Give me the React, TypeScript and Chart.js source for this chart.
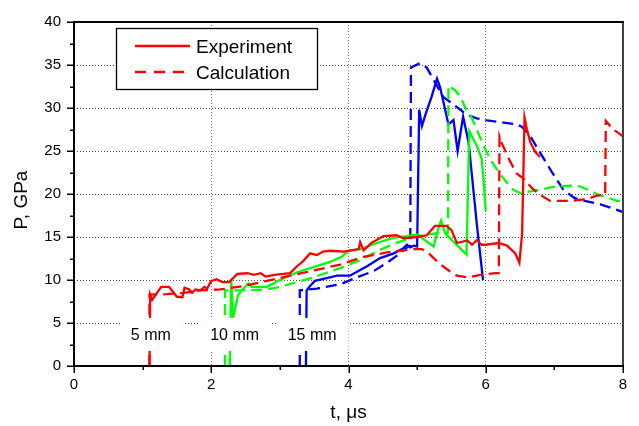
import React, { useEffect, useRef } from 'react';
import { Chart, registerables } from 'chart.js';

Chart.register(...registerables);

const FONT = '"Liberation Sans", Arial, Helvetica, sans-serif';

// ---- data (t in µs, P in GPa) ----
const redExpT = [1.10, 1.11, 1.14, 1.27, 1.385, 1.5, 1.58, 1.61, 1.68, 1.72, 1.77, 1.84, 1.9, 1.94, 2.0, 2.08, 2.16, 2.26, 2.38, 2.53, 2.62, 2.72, 2.79, 2.92, 3.05, 3.15, 3.25, 3.34, 3.44, 3.54, 3.63, 3.73, 3.93, 4.15, 4.17, 4.22, 4.34, 4.41, 4.51, 4.7, 4.8, 5.0, 5.14, 5.26, 5.43, 5.5, 5.58, 5.73, 5.8, 5.87, 5.94, 6.0, 6.19, 6.31, 6.43, 6.49, 6.53, 6.565, 6.6, 6.65, 6.72, 6.79];
const redExpP = [0, 8.3, 7.7, 9.2, 9.2, 8.05, 8.0, 9.1, 8.9, 8.5, 8.9, 8.8, 9.2, 9.0, 9.9, 10.1, 9.75, 9.75, 10.7, 10.8, 10.6, 10.8, 10.4, 10.6, 10.7, 10.8, 11.6, 12.2, 13.1, 12.9, 13.3, 13.4, 13.3, 13.6, 14.4, 13.45, 14.35, 14.65, 15.1, 15.2, 14.85, 15.0, 15.2, 16.3, 16.3, 15.8, 14.3, 14.6, 14.1, 14.65, 14.1, 14.1, 14.3, 14.0, 13.1, 12.0, 15.4, 28.9, 27.5, 26.0, 24.9, 24.3];

const redCalcT = [1.10, 1.10, 1.35, 1.6, 1.84, 2.13, 2.47, 2.81, 3.15, 3.49, 3.88, 4.22, 4.56, 4.95, 5.07, 5.19, 5.31, 5.46, 5.58, 5.75, 5.92, 6.14, 6.19, 6.2, 6.24, 6.36, 6.45, 6.55, 6.67, 6.79, 6.94, 7.23, 7.47, 7.62, 7.74, 7.75, 7.86, 8.0];
const redCalcP = [0, 8.3, 8.35, 8.5, 8.8, 8.9, 9.3, 9.9, 10.5, 11.1, 11.8, 12.7, 13.2, 13.6, 13.6, 12.95, 12.0, 11.1, 10.5, 10.3, 10.6, 10.8, 10.8, 26.7, 25.8, 23.7, 22.4, 21.8, 20.7, 19.9, 19.2, 19.2, 19.4, 19.8, 19.9, 28.5, 27.5, 26.7];

const greenExpT = [2.27, 2.29, 2.32, 2.39, 2.445, 2.54, 2.59, 2.81, 3.0, 3.25, 3.49, 3.73, 3.9, 4.0, 4.17, 4.41, 4.65, 4.85, 5.0, 5.24, 5.31, 5.35, 5.41, 5.72, 5.76, 5.87, 5.94, 5.97, 6.0];
const greenExpP = [0, 10.05, 5.6, 8.2, 8.8, 9.6, 9.2, 9.2, 10.0, 10.9, 11.5, 12.1, 12.7, 13.4, 13.6, 14.3, 14.9, 15.1, 15.3, 13.9, 16.0, 16.9, 15.4, 12.95, 27.3, 25.6, 24.1, 21.5, 18.0];

const greenCalcT = [2.2, 2.2, 2.47, 2.81, 3.0, 3.49, 3.88, 4.17, 4.46, 4.66, 4.95, 5.24, 5.45, 5.456, 5.55, 5.63, 5.7, 5.8, 5.89, 5.97, 6.06, 6.21, 6.28, 6.4, 6.5, 6.65, 6.79, 6.96, 7.08, 7.33, 7.52, 7.62, 7.77, 7.91, 8.0];
const greenCalcP = [0, 8.8, 8.8, 8.9, 9.2, 10.3, 11.4, 12.3, 13.5, 14.2, 15.0, 15.4, 15.5, 32.6, 32.1, 31.3, 30.1, 28.8, 27.1, 25.6, 24.1, 22.3, 21.6, 20.5, 20.1, 20.3, 20.5, 20.8, 20.9, 21.0, 20.4, 20.0, 19.6, 19.2, 19.2];

const blueExpT = [3.38, 3.39, 3.44, 3.51, 3.73, 3.83, 4.02, 4.19, 4.27, 4.46, 4.66, 4.8, 4.85, 4.9, 4.95, 5.0, 5.03, 5.07, 5.12, 5.21, 5.29, 5.335, 5.456, 5.53, 5.59, 5.67, 5.75, 5.87, 5.96];
const blueExpP = [0, 8.8, 9.3, 9.9, 10.3, 10.5, 10.5, 11.25, 11.6, 12.55, 13.1, 13.7, 14.1, 13.8, 14.0, 13.9, 29.8, 27.9, 29.2, 31.3, 33.4, 32.4, 28.1, 28.6, 25.0, 29.0, 26.0, 16.5, 10.0];

const blueCalcT = [3.29, 3.29, 3.54, 3.73, 3.88, 4.12, 4.37, 4.56, 4.7, 4.87, 4.9, 4.91, 5.04, 5.14, 5.38, 5.48, 5.63, 5.72, 5.87, 6.02, 6.26, 6.45, 6.53, 6.65, 6.79, 6.96, 7.13, 7.28, 7.38, 7.67, 7.86, 8.0];
const blueCalcP = [0, 8.8, 9.0, 9.3, 9.5, 10.3, 11.05, 12.0, 12.8, 13.9, 14.0, 34.7, 35.2, 34.7, 31.3, 30.7, 29.8, 29.2, 28.8, 28.55, 28.3, 28.1, 27.8, 26.7, 24.85, 22.6, 20.5, 19.6, 19.3, 18.8, 18.3, 17.9];

const xTicks = [0, 2, 4, 6, 8];
const yTicks = [0, 5, 10, 15, 20, 25, 30, 35, 40];
const legendLabels = ['Experiment', 'Calculation'];
const thicknessLabels = ['5 mm', '10 mm', '15 mm'];
const thicknessLabelT = [1.12, 2.34, 3.47];
const thicknessLabelP = 3.5;
const xTitle = 't, \u03bcs';
const yTitle = 'P, GPa';

const RED = '#ff0000';
const GREEN = '#00ff00';
const BLUE = '#0000ff';
const DASH = [11, 6];

function pts(t: number[], p: number[]) {
  return t.map((x, i) => ({ x, y: p[i] }));
}

function ds(label: string, t: number[], p: number[], color: string, dashed: boolean) {
  return {
    label,
    data: pts(t, p),
    borderColor: color,
    backgroundColor: color,
    borderWidth: 2.3,
    borderDash: dashed ? DASH : [],
    pointRadius: 0,
    tension: 0,
    fill: false,
  };
}

const framePlugin = {
  id: 'frame',
  afterDatasetsDraw(chart: any) {
    const { ctx, chartArea: a, scales } = chart;
    const x = scales.x;
    const y = scales.y;
    ctx.save();

    // thickness labels on white boxes
    ctx.font = `16px ${FONT}`;
    ctx.textAlign = 'center';
    ctx.textBaseline = 'middle';
    thicknessLabels.forEach((lab, i) => {
      const cx = x.getPixelForValue(thicknessLabelT[i]);
      const cy = y.getPixelForValue(thicknessLabelP);
      const w = ctx.measureText(lab).width;
      ctx.fillStyle = '#ffffff';
      ctx.fillRect(cx - w / 2 - 10, cy - 18, w + 22, 33);
      ctx.fillStyle = '#000000';
      ctx.fillText(lab, cx, cy);
    });

    // frame lines
    ctx.lineCap = 'square';
    ctx.lineWidth = 2;
    ctx.strokeStyle = '#404040';
    ctx.beginPath();
    ctx.moveTo(a.right, a.top);
    ctx.lineTo(a.right, a.bottom);
    ctx.stroke();
    ctx.strokeStyle = '#000000';
    ctx.beginPath();
    ctx.moveTo(a.left, a.top);
    ctx.lineTo(a.right, a.top);
    ctx.moveTo(a.left, a.top);
    ctx.lineTo(a.left, a.bottom);
    ctx.lineTo(a.right, a.bottom);
    ctx.stroke();

    // tick marks (major + minor), outward
    ctx.lineCap = 'butt';
    ctx.lineWidth = 1.5;
    ctx.beginPath();
    for (let v = 0; v <= 40.001; v += 2.5) {
      const py = Math.round(y.getPixelForValue(v)) + 0.25;
      const len = Math.abs(v % 5) < 0.01 ? 7 : 4;
      ctx.moveTo(a.left - len, py);
      ctx.lineTo(a.left, py);
    }
    for (let v = 0; v <= 8.001; v += 1) {
      const px = Math.round(x.getPixelForValue(v)) + 0.25;
      const len = v % 2 === 0 ? 7 : 4;
      ctx.moveTo(px, a.bottom);
      ctx.lineTo(px, a.bottom + len);
    }
    ctx.stroke();

    // axis titles
    ctx.fillStyle = '#000000';
    ctx.font = `19px ${FONT}`;
    ctx.textAlign = 'center';
    ctx.textBaseline = 'middle';
    ctx.fillText(xTitle, (a.left + a.right) / 2, 413);
    ctx.save();
    ctx.translate(22, 200);
    ctx.rotate(-Math.PI / 2);
    ctx.fillText(yTitle, 0, 0);
    ctx.restore();

    // legend
    const lx = 116, ly = 28, lw = 201, lh = 61;
    ctx.fillStyle = '#ffffff';
    ctx.fillRect(lx, ly, lw, lh);
    ctx.lineWidth = 1.3;
    ctx.strokeStyle = '#000000';
    ctx.strokeRect(lx + 0.5, ly + 0.5, lw, lh);
    ctx.lineWidth = 2.3;
    ctx.strokeStyle = RED;
    ctx.beginPath();
    ctx.moveTo(135, 46);
    ctx.lineTo(190, 46);
    ctx.stroke();
    ctx.setLineDash([11, 8]);
    ctx.beginPath();
    ctx.moveTo(135, 72);
    ctx.lineTo(190, 72);
    ctx.stroke();
    ctx.setLineDash([]);
    ctx.fillStyle = '#000000';
    ctx.font = `19px ${FONT}`;
    ctx.textAlign = 'left';
    ctx.textBaseline = 'alphabetic';
    ctx.fillText(legendLabels[0], 196, 53);
    ctx.fillText(legendLabels[1], 196, 79);

    ctx.restore();
  },
};

export default function App() {
  const ref = useRef<HTMLCanvasElement>(null);
  useEffect(() => {
    const canvas = ref.current;
    if (!canvas) return;
    const chart = new Chart(canvas, {
      type: 'line',
      data: {
        datasets: [
          ds('Experiment 5 mm', redExpT, redExpP, RED, false),
          ds('Calculation 5 mm', redCalcT, redCalcP, RED, true),
          ds('Experiment 10 mm', greenExpT, greenExpP, GREEN, false),
          ds('Calculation 10 mm', greenCalcT, greenCalcP, GREEN, true),
          ds('Experiment 15 mm', blueExpT, blueExpP, BLUE, false),
          ds('Calculation 15 mm', blueCalcT, blueCalcP, BLUE, true),
        ] as any,
      },
      options: {
        responsive: false,
        animation: false,
        devicePixelRatio: 1,
        layout: { padding: { left: 0, right: 16, top: 13, bottom: 0 } },
        plugins: {
          legend: { display: false },
          tooltip: { enabled: false },
        },
        scales: {
          x: {
            type: 'linear',
            min: 0,
            max: 8,
            afterBuildTicks: (s: any) => {
              s.ticks = xTicks.map((v) => ({ value: v }));
            },
            afterFit: (s: any) => {
              s.height = 60;
            },
            grid: {
              drawTicks: false,
              lineWidth: 1,
              color: (c: any) => (c.tick && c.tick.value > 0 && c.tick.value < 8 ? '#707070' : 'rgba(0,0,0,0)'),
            },
            border: { display: false, dash: [1, 2] },
            ticks: {
              padding: 10,
              color: '#000000',
              font: { family: FONT, size: 15 },
              maxRotation: 0,
              autoSkip: false,
            },
          },
          y: {
            type: 'linear',
            min: 0,
            max: 40,
            afterBuildTicks: (s: any) => {
              s.ticks = yTicks.map((v) => ({ value: v }));
            },
            afterFit: (s: any) => {
              s.width = 74;
            },
            grid: {
              drawTicks: false,
              lineWidth: 1,
              color: (c: any) => (c.tick && c.tick.value > 0 && c.tick.value < 40 ? '#505050' : 'rgba(0,0,0,0)'),
            },
            border: { display: false, dash: [1, 2] },
            ticks: {
              padding: 13,
              color: '#000000',
              font: { family: FONT, size: 15 },
              autoSkip: false,
            },
          },
        },
      } as any,
      plugins: [framePlugin],
    });
    return () => chart.destroy();
  }, []);

  return (
    <div style={{ position: 'absolute', left: 0, top: 0, width: 639, height: 426, background: '#ffffff' }}>
      <canvas ref={ref} width={639} height={426} style={{ display: 'block', width: 639, height: 426 }} />
    </div>
  );
}
